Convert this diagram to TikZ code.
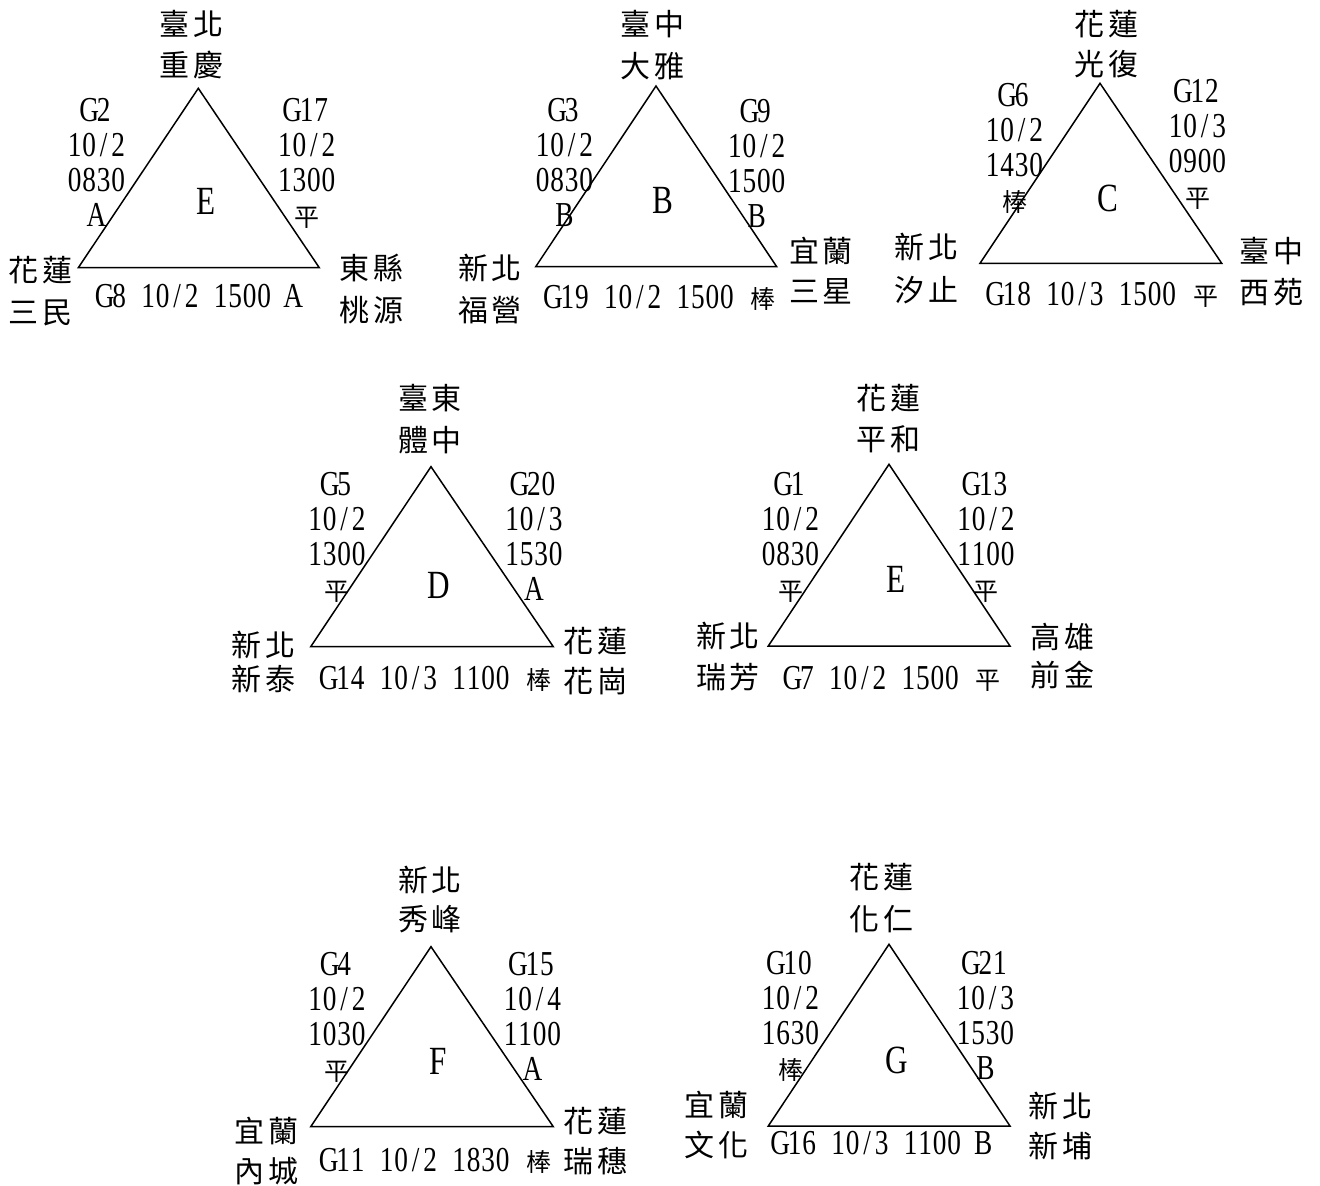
\documentclass[tikz,border=0pt]{standalone}
\usepackage{fontspec}
\setmainfont[FakeStretch=0.78]{Liberation Serif}
\newfontfamily\cjkfont{Noto Sans CJK TC}
\newcommand\lat{\fontsize{35}{42}\selectfont}
\newcommand\cjs{\cjkfont\fontsize{25}{30}\selectfont}
\newcommand\cjb{\cjkfont\fontsize{30}{36}\selectfont}
% half-width monospaced cells, as in the reference font
\newcommand\mono[1]{\monoloop#1\relax}
\def\monoloop#1{\ifx\relax#1\else\makebox[14.5pt]{#1}\expandafter\monoloop\fi}
\newcommand\sps{\hspace{14.5pt}}
\newcommand\wide[1]{\makebox[29pt]{\cjs #1}}
\tikzset{
  el/.style={font=\lat, inner sep=0pt, text height=23pt, text depth=0pt},
  cn/.style={font=\cjb, inner sep=0pt, text height=26pt, text depth=3.6pt},
  mid/.style={font=\fontsize{40}{48}\selectfont, inner sep=0pt, text height=26.5pt, text depth=0pt},
  tri/.style={draw, line width=1.5pt, line join=miter},
}
% edge stack: name, x, y, four lines
\newcommand\stk[7]{%
  \node[el] (#1a) at (#2,#3) {\mono{#4}};
  \node[el] (#1b) at (#2,#3+35) {\mono{#5}};
  \node[el] (#1c) at (#2,#3+70) {\mono{#6}};
  \node[el] (#1d) at (#2,#3+105) {#7};}
% two-line place name: name, x, y1, y2, four characters
\newcommand\cpair[8]{%
  \node[cn] (#1a) at (#2,#3) {#5\hspace{4pt}#6};
  \node[cn] (#1b) at (#2,#4) {#7\hspace{4pt}#8};}
\begin{document}
\begin{tikzpicture}[x=1pt,y=-1pt]
\useasboundingbox (0,0) rectangle (1320,1186);

% ---------- T1 ----------
\coordinate (t1a) at (198.3,88.3);
\coordinate (t1l) at (78.3,267.7);
\coordinate (t1r) at (319.3,267.7);
\draw[tri] (t1a) -- (t1l) -- (t1r) -- cycle;
\cpair{t1top}{191.7}{24}{65}{臺}{北}{重}{慶}
\stk{t1le}{96.5}{110}{G2}{10/2}{0830}{A}
\stk{t1ri}{306.7}{110}{G17}{10/2}{1300}{{\cjs 平}}
\node[mid] (t1m) at (205.8,201.7) {E};
\node[el] (t1b) at (199,296) {\mono{G8}\sps\mono{10/2}\sps\mono{1500}\sps\mono{A}};
\cpair{t1cl}{41}{270}{312}{花}{蓮}{三}{民}
\cpair{t1cr}{371.7}{268}{310}{東}{縣}{桃}{源}

% ---------- T2 ----------
\coordinate (t2a) at (656,86);
\coordinate (t2l) at (535.7,266.7);
\coordinate (t2r) at (776.7,266.7);
\draw[tri] (t2a) -- (t2l) -- (t2r) -- cycle;
\cpair{t2top}{652.5}{24}{66}{臺}{中}{大}{雅}
\stk{t2le}{564.5}{110}{G3}{10/2}{0830}{B}
\stk{t2ri}{756.7}{110.5}{G9}{10/2}{1500}{B}
\node[mid] (t2m) at (662.5,200) {B};
\node[el] (t2b) at (661.7,296.7) {\mono{G19}\sps\mono{10/2}\sps\mono{1500}\sps\wide{棒}};
\cpair{t2cl}{490}{268}{310}{新}{北}{福}{營}
\cpair{t2cr}{821}{251}{291.7}{宜}{蘭}{三}{星}

% ---------- T3 ----------
\coordinate (t3a) at (1100,83.3);
\coordinate (t3l) at (980,263.3);
\coordinate (t3r) at (1221.7,263.3);
\draw[tri] (t3a) -- (t3l) -- (t3r) -- cycle;
\cpair{t3top}{1106.7}{24}{64}{花}{蓮}{光}{復}
\stk{t3le}{1014.5}{95}{G6}{10/2}{1430}{{\cjs 棒}}
\stk{t3ri}{1197.5}{91}{G12}{10/3}{0900}{{\cjs 平}}
\node[mid] (t3m) at (1108,198) {C};
\node[el] (t3b) at (1104,294) {\mono{G18}\sps\mono{10/3}\sps\mono{1500}\sps\wide{平}};
\cpair{t3cl}{926.7}{247.5}{290}{新}{北}{汐}{止}
\cpair{t3cr}{1271.7}{251}{292}{臺}{中}{西}{苑}

% ---------- T4 ----------
\coordinate (t4a) at (431,466.7);
\coordinate (t4l) at (310.7,646.7);
\coordinate (t4r) at (553.3,646.7);
\draw[tri] (t4a) -- (t4l) -- (t4r) -- cycle;
\cpair{t4top}{430}{398}{440}{臺}{東}{體}{中}
\stk{t4le}{337}{484}{G5}{10/2}{1300}{{\cjs 平}}
\stk{t4ri}{534}{484}{G20}{10/3}{1530}{A}
\node[mid] (t4m) at (439,585) {D};
\node[el] (t4b) at (437.5,678) {\mono{G14}\sps\mono{10/3}\sps\mono{1100}\sps\wide{棒}};
\cpair{t4cl}{263.3}{645}{679}{新}{北}{新}{泰}
\cpair{t4cr}{595.8}{641}{681}{花}{蓮}{花}{崗}

% ---------- T5 ----------
\coordinate (t5a) at (889,464.3);
\coordinate (t5l) at (768.3,646);
\coordinate (t5r) at (1010,646);
\draw[tri] (t5a) -- (t5l) -- (t5r) -- cycle;
\cpair{t5top}{888}{398}{439}{花}{蓮}{平}{和}
\stk{t5le}{790.5}{484}{G1}{10/2}{0830}{{\cjs 平}}
\stk{t5ri}{986}{484}{G13}{10/2}{1100}{{\cjs 平}}
\node[mid] (t5m) at (896,579) {E};
\node[el] (t5b) at (894,677.5) {\mono{G7}\sps\mono{10/2}\sps\mono{1500}\sps\wide{平}};
\cpair{t5cl}{728}{636}{677}{新}{北}{瑞}{芳}
\cpair{t5cr}{1062.5}{637}{675}{高}{雄}{前}{金}

% ---------- T6 ----------
\coordinate (t6a) at (431,946.7);
\coordinate (t6l) at (310.7,1126.7);
\coordinate (t6r) at (553.3,1126.7);
\draw[tri] (t6a) -- (t6l) -- (t6r) -- cycle;
\cpair{t6top}{430}{880}{919}{新}{北}{秀}{峰}
\stk{t6le}{337}{964}{G4}{10/2}{1030}{{\cjs 平}}
\stk{t6ri}{532.5}{964}{G15}{10/4}{1100}{A}
\node[mid] (t6m) at (438,1061) {F};
\node[el] (t6b) at (437.5,1160) {\mono{G11}\sps\mono{10/2}\sps\mono{1830}\sps\wide{棒}};
\cpair{t6cl}{266.7}{1131}{1171}{宜}{蘭}{內}{城}
\cpair{t6cr}{595.8}{1121}{1161}{花}{蓮}{瑞}{穗}

% ---------- T7 ----------
\coordinate (t7a) at (889,944.3);
\coordinate (t7l) at (768.3,1126);
\coordinate (t7r) at (1010,1126);
\draw[tri] (t7a) -- (t7l) -- (t7r) -- cycle;
\cpair{t7top}{881.7}{877.5}{919}{花}{蓮}{化}{仁}
\stk{t7le}{790.5}{963}{G10}{10/2}{1630}{{\cjs 棒}}
\stk{t7ri}{985.5}{963}{G21}{10/3}{1530}{B}
\node[mid] (t7m) at (896.7,1060) {G};
\node[el] (t7b) at (881.7,1143) {\mono{G16}\sps\mono{10/3}\sps\mono{1100}\sps\mono{B}};
\cpair{t7cl}{716.7}{1105}{1145}{宜}{蘭}{文}{化}
\cpair{t7cr}{1060.7}{1106}{1146}{新}{北}{新}{埔}
\end{tikzpicture}
\end{document}
